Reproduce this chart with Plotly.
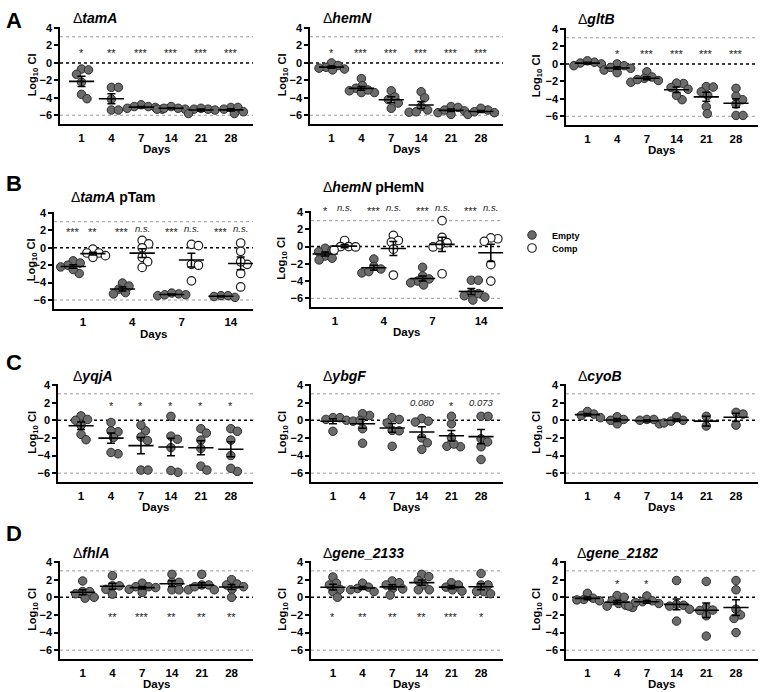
import numpy as np
import plotly.graph_objects as go

W, H = 760, 692
FONT = "Arial, Liberation Sans, sans-serif"
YMIN, YMAX = -7, 4.15

days6 = ["1", "4", "7", "14", "21", "28"]
days4 = ["1", "4", "7", "14"]

# ---- panel A ----
tamA = [[-0.7, -0.8, -1.3, -2.2, -3.6, -4.1],
        [-2.8, -2.8, -4.15, -5.4, -5.4],
        [-4.8, -5.0, -5.0, -5.2, -5.3, -5.1],
        [-5.0, -5.3, -5.3, -5.2, -5.2],
        [-5.3, -5.3, -5.8, -5.2, -5.4],
        [-5.1, -5.1, -5.6, -5.8, -5.3]]
tamA_sig = ["*", "**", "***", "***", "***", "***"]

hemN = [[0.0, -0.3, -0.5, -0.7, -0.8, -0.6],
        [-1.8, -2.6, -2.9, -3.2, -3.4, -3.4, -3.1],
        [-3.2, -3.9, -4.2, -4.6, -5.2],
        [-3.3, -4.0, -5.0, -5.4, -5.65, -5.6],
        [-5.0, -5.1, -5.7, -5.9, -5.5, -5.4],
        [-5.4, -5.2, -5.9, -5.7, -5.6]]
hemN_sig = ["*", "***", "***", "***", "***", "***"]

gltB = [[0.1, 0.2, 0.0, -0.2, 0.35],
        [0.0, -0.2, -0.5, -0.7, -1.0, -0.4],
        [-0.9, -1.5, -1.65, -2.1, -1.8, -1.9],
        [-2.25, -2.2, -2.7, -2.9, -4.1, -3.6],
        [-2.6, -2.65, -3.2, -3.6, -4.9, -5.7],
        [-2.8, -4.1, -4.6, -3.7, -5.9, -5.9]]
gltB_sig = ["", "*", "***", "***", "***", "***"]

# ---- panel B (empty vector vs complemented) ----
pTam_empty = [[-1.5, -1.75, -2.0, -2.2, -2.95, -2.5],
              [-4.05, -4.4, -4.75, -5.15, -5.3],
              [-5.3, -5.5, -5.4, -5.4, -5.2],
              [-5.5, -5.6, -5.5, -5.7]]
pTam_comp = [[-0.15, -0.6, -0.6, -1.1, -0.9],
             [0.85, 0.45, 0.0, -1.1, -1.6, -2.25],
             [0.4, 0.25, -1.9, -2.0, -3.8],
             [0.55, -0.4, -1.9, -1.6, -2.95, -4.5]]
pTam_sig = ["***", "**", "***", "n.s.", "***", "n.s.", "***", "n.s."]

pHemN_empty = [[-0.2, -0.6, -1.1, -1.35, -1.55, -0.4],
               [-1.45, -2.3, -2.6, -3.05, -2.9],
               [-2.4, -3.4, -3.75, -4.0, -4.2, -4.45],
               [-3.9, -3.9, -5.45, -5.4, -5.85, -6.2, -5.7]]
pHemN_comp = [[0.7, 0.0, 0.0, -0.4, -0.05],
              [1.3, 0.7, 0.5, -0.3, -3.3],
              [3.0, 1.05, 0.45, -0.05, -3.15, 0.2],
              [0.9, 1.0, 0.6, -2.1, -4.0]]
pHemN_sig = ["*", "n.s.", "***", "n.s.", "***", "n.s.", "***", "n.s."]

# ---- panel C ----
yqjA = [[0.5, 0.0, 0.1, -0.55, -1.6, -2.2],
        [-0.25, -1.3, -1.2, -1.95, -3.8, -3.65],
        [-1.2, -1.9, -0.55, -2.3, -5.65, -5.65],
        [0.45, -1.8, -2.15, -3.1, -5.9, -5.7],
        [-0.95, -1.45, -2.25, -3.2, -5.2, -5.65],
        [-0.95, -1.25, -2.25, -4.0, -5.8, -5.45]]
yqjA_sig = ["", "*", "*", "*", "*", "*"]

ybgF = [[0.3, 0.3, 0.0, 0.1, -1.25],
        [0.55, 0.75, -0.1, 0.0, -0.95, -2.6],
        [0.3, 0.1, -0.3, -1.15, -1.2, -2.95],
        [0.2, -0.1, -0.2, -2.0, -2.55, -3.3],
        [-0.4, 0.45, -1.95, -2.95, -3.0, -2.7],
        [0.45, 0.45, -2.1, -2.45, -3.0, -4.45]]
ybgF_sig = ["", "", "", "0.080", "*", "0.073"]

cyoB = [[1.0, 0.55, 0.7, 0.3],
        [0.4, -0.4, 0.0, 0.1],
        [0.1, -0.4, 0.1, 0.0],
        [0.4, -0.3, 0.0, -0.1],
        [0.45, -0.65],
        [0.9, 0.7, -0.55]]
cyoB_sig = ["", "", "", "", "", ""]

# ---- panel D ----
fhlA = [[1.85, 0.65, 0.65, 0.4, -0.1, 0.0],
        [2.45, 1.3, 1.3, 0.9, 0.35],
        [1.6, 1.2, 1.2, 0.9, 0.55, 1.1],
        [2.6, 1.7, 1.7, 0.85, 0.85],
        [2.6, 1.4, 1.4, 0.85, 0.85, 1.2],
        [2.0, 1.5, 1.2, 0.9, 0.0, 1.4]]
fhlA_sig = ["", "**", "***", "**", "**", "**"]

gene2133 = [[2.3, 1.6, 1.4, 0.9, 0.65, 0.0],
            [1.6, 1.15, 1.0, 0.85, 0.65],
            [1.85, 1.65, 1.4, 1.0, 0.95, 0.25],
            [2.6, 2.35, 1.9, 1.4, 0.85, 0.85],
            [1.65, 1.4, 1.15, 0.85, 0.7],
            [2.7, 1.4, 1.4, 0.65, 0.65, 0.4]]
gene2133_sig = ["*", "**", "**", "**", "***", "*"]

gene2182 = [[0.45, -0.1, -0.25, -0.4, -0.3],
            [0.2, 0.0, -0.4, -0.7, -1.0, -1.15, -0.9],
            [0.15, -0.5, -0.7, -0.6, -0.4, -1.0],
            [1.9, -0.8, -0.9, -1.35, -1.0, -2.7],
            [1.8, -1.15, -1.45, -1.5, -2.1, -4.4],
            [1.9, 0.85, -1.35, -2.0, -2.4, -4.0]]
gene2182_sig = ["", "*", "*", "", "", ""]


EMPTY = dict(color="#6b6b6b", size=8.5, line=dict(color="#2e2e2e", width=1))
COMP = dict(color="white", size=8.5, line=dict(color="#1e1e1e", width=1.2))


def swarm(vals, xstep_px, yunit_px, d=7.0):
    """simple beeswarm: horizontal offsets (in x units) so markers don't pile up"""
    vals = np.asarray(vals, float)
    cands = [0.0]
    for k in range(1, 60):
        cands += [k * 0.5, -k * 0.5]
    placed, offs = [], np.zeros(len(vals))
    for i in np.argsort(-vals):
        y = vals[i] * yunit_px
        for c in cands:
            if all((c - px) ** 2 + (y - py) ** 2 >= d * d for px, py in placed):
                break
        placed.append((c, y))
        offs[i] = c / xstep_px
    return offs


# layout of each small plot (pixel boxes)
A_RANGE = [-0.72, 5.74]
panels = [
    dict(series=[tamA], sig=tamA_sig, sig_y=1.5, xd=(60, 253), yd=(26.7, 124), xr=A_RANGE,
         title="Δ<b><i>tamA</i></b>", tpos=(71, 18), ylab=-27, letter=("A", 14, 20)),
    dict(series=[hemN], sig=hemN_sig, sig_y=1.5, xd=(310, 503), yd=(26.7, 124), xr=A_RANGE,
         title="Δ<b><i>hemN</i></b>", tpos=(321, 18), ylab=-27),
    dict(series=[gltB], sig=gltB_sig, sig_y=1.5, xd=(566, 758), yd=(27.7, 125), xr=A_RANGE,
         title="Δ<b><i>gltB</i></b>", tpos=(576, 19), ylab=-29),
    dict(series=[pTam_empty, pTam_comp], sig=pTam_sig, sig_y=2.2, xd=(54, 253), yd=(211.7, 308.7),
         xr=[-0.59, 3.45], title="Δ<b><i>tamA</i> pTam</b>", tpos=(69, 197), ylab=-22,
         letter=("B", 14, 183)),
    dict(series=[pHemN_empty, pHemN_comp], sig=pHemN_sig, sig_y=4.5, xd=(311, 503), yd=(210.7, 307),
         xr=[-0.49, 3.45], title="Δ<b><i>hemN</i> pHemN</b>", tpos=(321, 187), ylab=-29),
    dict(series=[yqjA], sig=yqjA_sig, sig_y=2.0, xd=(58, 253), yd=(383.7, 482), xr=[-0.77, 5.74],
         title="Δ<b><i>yqjA</i></b>", tpos=(71, 376), ylab=-25, letter=("C", 14, 362)),
    dict(series=[ybgF], sig=ybgF_sig, sig_y=2.0, xd=(311, 503), yd=(383.7, 482), xr=[-0.74, 5.74],
         title="Δ<b><i>ybgF</i></b>", tpos=(321, 376), ylab=-28),
    dict(series=[cyoB], sig=cyoB_sig, sig_y=2.0, xd=(566, 758), yd=(383.7, 482), xr=A_RANGE,
         title="Δ<b><i>cyoB</i></b>", tpos=(576, 376), ylab=-29),
    dict(series=[fhlA], sig=fhlA_sig, sig_y=-1.9, xd=(60, 253), yd=(560.7, 659), xr=[-0.76, 5.72],
         title="Δ<b><i>fhlA</i></b>", tpos=(71, 553), ylab=-27, letter=("D", 14, 533)),
    dict(series=[gene2133], sig=gene2133_sig, sig_y=-1.9, xd=(311, 503), yd=(560.7, 659),
         xr=[-0.74, 5.74], title="Δ<b><i>gene_2133</i></b>", tpos=(321, 553), ylab=-28),
    dict(series=[gene2182], sig=gene2182_sig, sig_y=1.85, xd=(566, 758), yd=(560.7, 659),
         xr=A_RANGE, title="Δ<b><i>gene_2182</i></b>", tpos=(575, 553), ylab=-29),
]

fig = go.Figure()
layout = {}
shapes, annos = [], []
legend_done = False

for n, p in enumerate(panels, start=1):
    sfx = "" if n == 1 else str(n)
    xref, yref = "x" + sfx, "y" + sfx
    x0, x1 = p["xd"]
    y0, y1 = p["yd"]
    xstep = (x1 - x0) / (p["xr"][1] - p["xr"][0])
    yunit = (y1 - y0) / (YMAX - YMIN)
    paired = len(p["series"]) == 2
    ndays = len(p["series"][0])

    for s, groups in enumerate(p["series"]):
        shift = (-0.2 if s == 0 else 0.2) if paired else 0.0
        style = COMP if s == 1 else EMPTY
        xs, ys, mx, my, me = [], [], [], [], []
        for d, vals in enumerate(groups):
            offs = swarm(vals, xstep, yunit)
            xs += list(d + shift + offs)
            ys += list(vals)
            v = np.asarray(vals, float)
            mx.append(d + shift)
            my.append(v.mean())
            me.append(v.std(ddof=1) / np.sqrt(len(v)))
        show = paired and not legend_done
        fig.add_trace(go.Scatter(x=xs, y=ys, mode="markers", marker=style, xaxis=xref, yaxis=yref,
                                 name="Empty" if s == 0 else "Comp", showlegend=show,
                                 legend="legend" if s == 0 else "legend2",
                                 hoverinfo="skip"))
        fig.add_trace(go.Scatter(x=mx, y=my, mode="markers", xaxis=xref, yaxis=yref, showlegend=False,
                                 marker=dict(symbol="line-ew", size=18, color="black",
                                             line=dict(color="black", width=1.6)),
                                 error_y=dict(type="data", array=me, width=4, thickness=1.5,
                                              color="black")))
    if paired:
        legend_done = True

    layout["xaxis" + sfx] = dict(domain=[x0 / W, x1 / W], range=p["xr"], anchor=yref,
                                 automargin=False, tickvals=list(range(ndays)),
                                 ticktext=days4 if paired else days6,
                                 showline=True, linecolor="black", linewidth=1.6, ticks="",
                                 showgrid=False, zeroline=False, ticklabelstandoff=2,
                                 tickfont=dict(family=FONT, size=11.5, color="black", weight="bold"))
    layout["yaxis" + sfx] = dict(domain=[1 - y1 / H, 1 - y0 / H], range=[YMIN, YMAX], anchor=xref,
                                 automargin=False, tickvals=[-6, -4, -2, 0, 2, 4],
                                 ticks="outside", ticklen=4,
                                 tickwidth=1.5, tickcolor="black", showline=True,
                                 linecolor="black", linewidth=1.6, showgrid=False, zeroline=False,
                                 tickfont=dict(family=FONT, size=11, color="black", weight="bold"))

    # reference lines: detection limits (grey) and neutral CI (black)
    for yv, col, wd in [(3, "#9a9a9a", 1), (-6, "#9a9a9a", 1), (0, "black", 1.5)]:
        shapes.append(dict(type="line", xref=xref + " domain", yref=yref, x0=0, x1=1, y0=yv, y1=yv,
                           line=dict(color=col, width=wd, dash="dot"), layer="below"))

    # significance labels (placed in domain units so labels above the axis top still show)
    sig_x = []
    for d in range(ndays):
        sig_x += [d - 0.2, d + 0.2] if paired else [d]
    sy = (p["sig_y"] - YMIN) / (YMAX - YMIN)
    for sx, txt in zip(sig_x, p["sig"]):
        if not txt:
            continue
        italic = not txt.startswith("*")
        annos.append(dict(x=sx, y=sy, xref=xref, yref=yref + " domain", showarrow=False,
                          xanchor="center", yanchor="middle",
                          text="<i>%s</i>" % txt if italic else txt,
                          yshift=0 if italic else -3,
                          font=dict(family=FONT, size=9.5 if italic else 11, color="#222222")))

    annos.append(dict(x=p["tpos"][0] / W, y=1 - p["tpos"][1] / H, xref="paper", yref="paper",
                      xanchor="left", yanchor="middle", showarrow=False, text=p["title"],
                      font=dict(family=FONT, size=14, color="black")))
    annos.append(dict(x=(x0 + p["ylab"]) / W, y=1 - (y0 + y1) / 2 / H, xref="paper", yref="paper",
                      xanchor="center", yanchor="middle",
                      textangle=-90, showarrow=False, text="<b>Log<sub>10</sub> CI</b>",
                      font=dict(family=FONT, size=11, color="black")))
    annos.append(dict(x=(x0 + x1) / 2 / W, y=1 - (y1 + 25) / H, xref="paper", yref="paper",
                      xanchor="center", yanchor="middle",
                      showarrow=False, text="<b>Days</b>",
                      font=dict(family=FONT, size=11.5, color="black")))
    if "letter" in p:
        t, lx, ly = p["letter"]
        annos.append(dict(x=lx / W, y=1 - ly / H, xref="paper", yref="paper", showarrow=False,
                          xanchor="center", yanchor="middle",
                          text="<b>%s</b>" % t, font=dict(family=FONT, size=22, color="black")))

leg = dict(x=512 / W, xanchor="left", yanchor="middle", bgcolor="rgba(0,0,0,0)",
           font=dict(family=FONT, size=9, color="black", weight="bold"), itemwidth=30)
fig.update_layout(
    width=W, height=H,
    margin=dict(l=0, r=0, t=0, b=0, autoexpand=False),
    paper_bgcolor="white", plot_bgcolor="white",
    shapes=shapes, annotations=annos,
    legend=dict(leg, y=1 - 235 / H),
    legend2=dict(leg, y=1 - 248 / H),
    **layout,
)

# drop the default page margin so the figure sits at the window's corner
fig.write_html("out.html", config={"displayModeBar": False},
               post_script="document.body.style.margin='0';")
